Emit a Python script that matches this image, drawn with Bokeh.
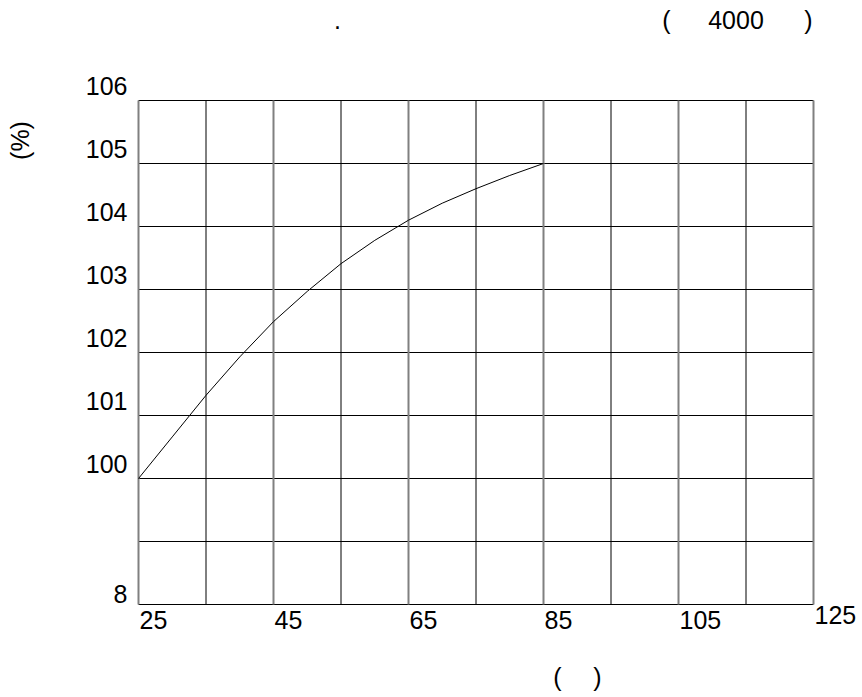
from bokeh.plotting import figure
from bokeh.models import Range1d, Label
from bokeh.embed import file_html
from bokeh.resources import INLINE

# ---- data ----
temp_c = [25, 30, 35, 40, 45, 50, 55, 60, 65, 70, 75, 80, 85]
pct = [100.0, 100.66, 101.32, 101.93, 102.49, 102.97, 103.41, 103.78, 104.10, 104.37, 104.6, 104.81, 105.0]

x_grid_minor = [35, 55, 75, 95, 115]
x_grid_major = [25, 45, 65, 85, 105, 125]
x_tick_labels = [25, 45, 65, 85, 105, 125]
y_grid = [98, 99, 100, 101, 102, 103, 104, 105, 106]
y_tick_vals = [106, 105, 104, 103, 102, 101, 100, 98]
y_tick_text = ["106", "105", "104", "103", "102", "101", "100", "8"]

X_MIN, X_MAX = 25, 125
Y_MIN, Y_MAX = 98, 106

W, H = 862, 697
# plot box in page pixels
LEFT, RIGHT, TOP, BOTTOM = 138, 813, 100, 604
sx = (RIGHT - LEFT) / (X_MAX - X_MIN)
sy = (BOTTOM - TOP) / (Y_MAX - Y_MIN)
xr = Range1d(X_MIN - LEFT / sx, X_MAX + (W - RIGHT) / sx)
yr = Range1d(Y_MIN - (H - BOTTOM) / sy, Y_MAX + TOP / sy)

FONT = "Liberation Sans"
FS = "25px"

p = figure(width=W, height=H, output_backend="svg", toolbar_location=None,
           x_axis_location=None, y_axis_location=None, x_range=xr, y_range=yr,
           min_border=0)
p.outline_line_color = None
p.grid.visible = False
p.background_fill_color = "white"
p.border_fill_color = "white"

# grid lines (the outer ones form the box)
p.segment(x0=[X_MIN] * len(y_grid), x1=[X_MAX] * len(y_grid), y0=y_grid, y1=y_grid,
          line_color="black", line_width=1)
p.segment(x0=x_grid_minor, x1=x_grid_minor, y0=[Y_MIN] * len(x_grid_minor),
          y1=[Y_MAX] * len(x_grid_minor), line_color="black", line_width=1)
p.segment(x0=x_grid_major, x1=x_grid_major, y0=[Y_MIN] * len(x_grid_major),
          y1=[Y_MAX] * len(x_grid_major), line_color="#808080", line_width=2)

p.line(temp_c, pct, line_color="black", line_width=1)

for v in x_tick_labels:
    p.add_layout(Label(x=v, y=Y_MIN, text=str(v), text_font=FONT, text_font_size=FS,
                       text_align="left", text_baseline="middle", x_offset=1,
                       y_offset=(-10 if v == X_MAX else -15), text_color="black"))
for v, t in zip(y_tick_vals, y_tick_text):
    p.add_layout(Label(x=X_MIN, y=v, text=t, text_font=FONT, text_font_size=FS,
                       text_align="right", text_baseline="middle", x_offset=-11,
                       y_offset=(11 if v == Y_MIN else 15), text_color="black"))

# axis titles and header texts (offsets relative to plot box corners)
p.add_layout(Label(x=X_MIN, y=Y_MAX, text="(%)", text_font=FONT, text_font_size=FS,
                   text_align="center", text_baseline="middle", angle=90, angle_units="deg",
                   x_offset=-119, y_offset=-40, text_color="black"))
for t, dx in [(".", 199), ("(", 528), ("4000", 597.5), (")", 670)]:
    p.add_layout(Label(x=X_MIN, y=Y_MAX, text=t, text_font=FONT, text_font_size=FS,
                       text_align="center", text_baseline="middle",
                       x_offset=dx, y_offset=81, text_color="black"))
for t, dx in [("(", 419), (")", 459)]:
    p.add_layout(Label(x=X_MIN, y=Y_MIN, text=t, text_font=FONT, text_font_size=FS,
                       text_align="center", text_baseline="middle",
                       x_offset=dx, y_offset=-72, text_color="black"))

open("out.html", "w").write(file_html(p, INLINE))
